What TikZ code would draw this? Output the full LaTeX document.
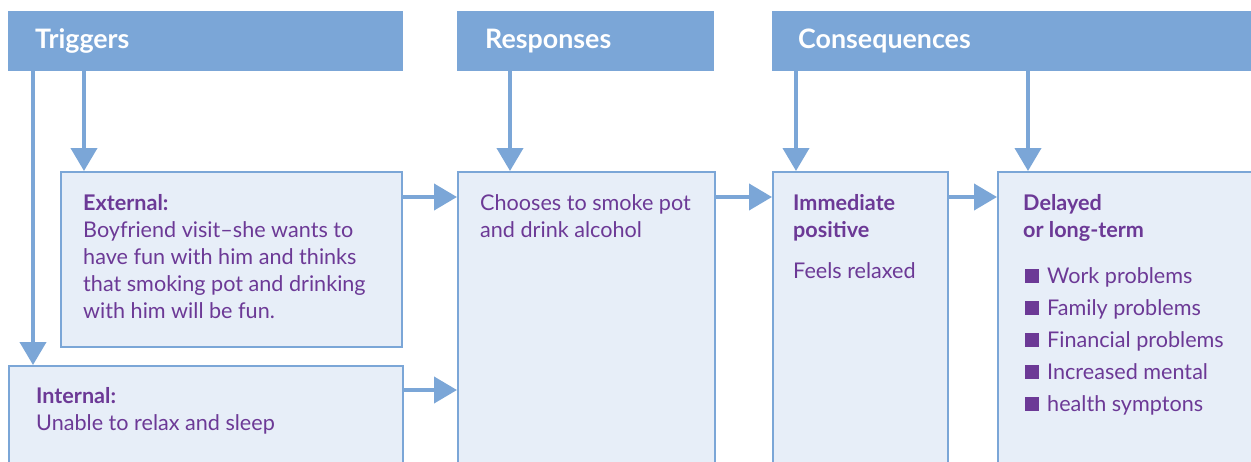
\documentclass[tikz,border=0pt]{standalone}
\usepackage{fontspec}
\setmainfont{Lato}
\usetikzlibrary{arrows.meta}
\definecolor{hdr}{HTML}{7BA6D7}
\definecolor{boxfill}{HTML}{E7EEF8}
\definecolor{txt}{HTML}{6C3996}
\newcommand{\bodyf}{\fontsize{21.6}{27}\selectfont}
\newcommand{\hdrf}{\fontsize{26.8}{30}\selectfont\bfseries}
\newcommand{\sqb}{\textcolor{txt}{\rule{14pt}{14pt}}\hspace{8pt}}
\begin{document}
\begin{tikzpicture}[x=1pt,y=-1pt,
  hdrbox/.style={fill=hdr, draw=none, anchor=north west, inner sep=0pt, minimum height=60pt},
  mainbox/.style={fill=boxfill, draw=hdr, line width=2pt, anchor=north west, inner sep=0pt},
  hdrtext/.style={text=white, font=\hdrf, anchor=base west, inner sep=0pt},
  bodytext/.style={text=txt, font=\bodyf, anchor=north west, inner sep=0pt, align=left},
  arr/.style={draw=hdr, line width=4pt, -{Triangle[width=26pt,length=23pt]}}
]
\clip (0,0) rectangle (1251,461);
\fill[white] (0,0) rectangle (1251,461);

% headers
\node[hdrbox, minimum width=395pt] (trig) at (8,11) {};
\node[hdrbox, minimum width=257pt] (resph) at (457,11) {};
\node[hdrbox, minimum width=490pt] (cons) at (772,11) {};
\node[hdrtext] (trigT) at (35,48) {Triggers};
\node[hdrtext] (respT) at (485,48) {Responses};
\node[hdrtext] (consT) at (798,48) {Consequences};

% boxes
\node[mainbox, minimum width=341pt, minimum height=175pt] (ext) at (60,171) {};
\node[mainbox, minimum width=394pt, minimum height=120pt] (int) at (8,365) {};
\node[mainbox, minimum width=257pt, minimum height=310pt] (resp) at (457,171) {};
\node[mainbox, minimum width=175pt, minimum height=310pt] (imm) at (772,171) {};
\node[mainbox, minimum width=280pt, minimum height=310pt] (del) at (997,171) {};

% texts
\node[bodytext] (extT) at (83,191.1) {\strut\textbf{External:}\\Boyfriend visit--she wants to\\have fun with him and thinks\\that smoking pot and drinking\\with him will be fun.};
\node[bodytext] (intT) at (36,384.1) {\strut\textbf{Internal:}\\Unable to relax and sleep};
\node[bodytext] (respB) at (480,191.1) {\strut Chooses to smoke pot\\and drink alcohol};
\node[bodytext] (immT) at (793,191.1) {\strut\textbf{Immediate}\\\textbf{positive}};
\node[bodytext] (immB) at (793,259.1) {\strut Feels relaxed};
\node[bodytext] (delT) at (1023,191.1) {\strut\textbf{Delayed}\\\textbf{or long-term}};
\node[bodytext, font=\fontsize{21.6}{32}\selectfont] (delB) at (1025,260.6) {\strut\sqb Work problems\\\sqb Family problems\\\sqb Financial problems\\\sqb Increased mental\\\sqb health symptons};

% arrows
\draw[arr] ([xshift=25pt]trig.south west) -- ([xshift=25pt]int.north west);
\draw[arr] ([xshift=76pt]trig.south west) -- ([xshift=24pt]ext.north west);
\draw[arr] ([xshift=53pt]resph.south west) -- ([xshift=53pt]resp.north west);
\draw[arr] ([xshift=24pt]cons.south west) -- ([xshift=24pt]imm.north west);
\draw[arr] ([xshift=256pt]cons.south west) -- ([xshift=31pt]del.north west);
\draw[arr] ([yshift=-26pt]ext.north east) -- ([yshift=-26pt]resp.north west);
\draw[arr] ([yshift=-25pt]int.north east) -- ([yshift=-219pt]resp.north west);
\draw[arr] ([yshift=-26pt]resp.north east) -- ([yshift=-26pt]imm.north west);
\draw[arr] ([yshift=-26pt]imm.north east) -- ([yshift=-26pt]del.north west);
\end{tikzpicture}
\end{document}
